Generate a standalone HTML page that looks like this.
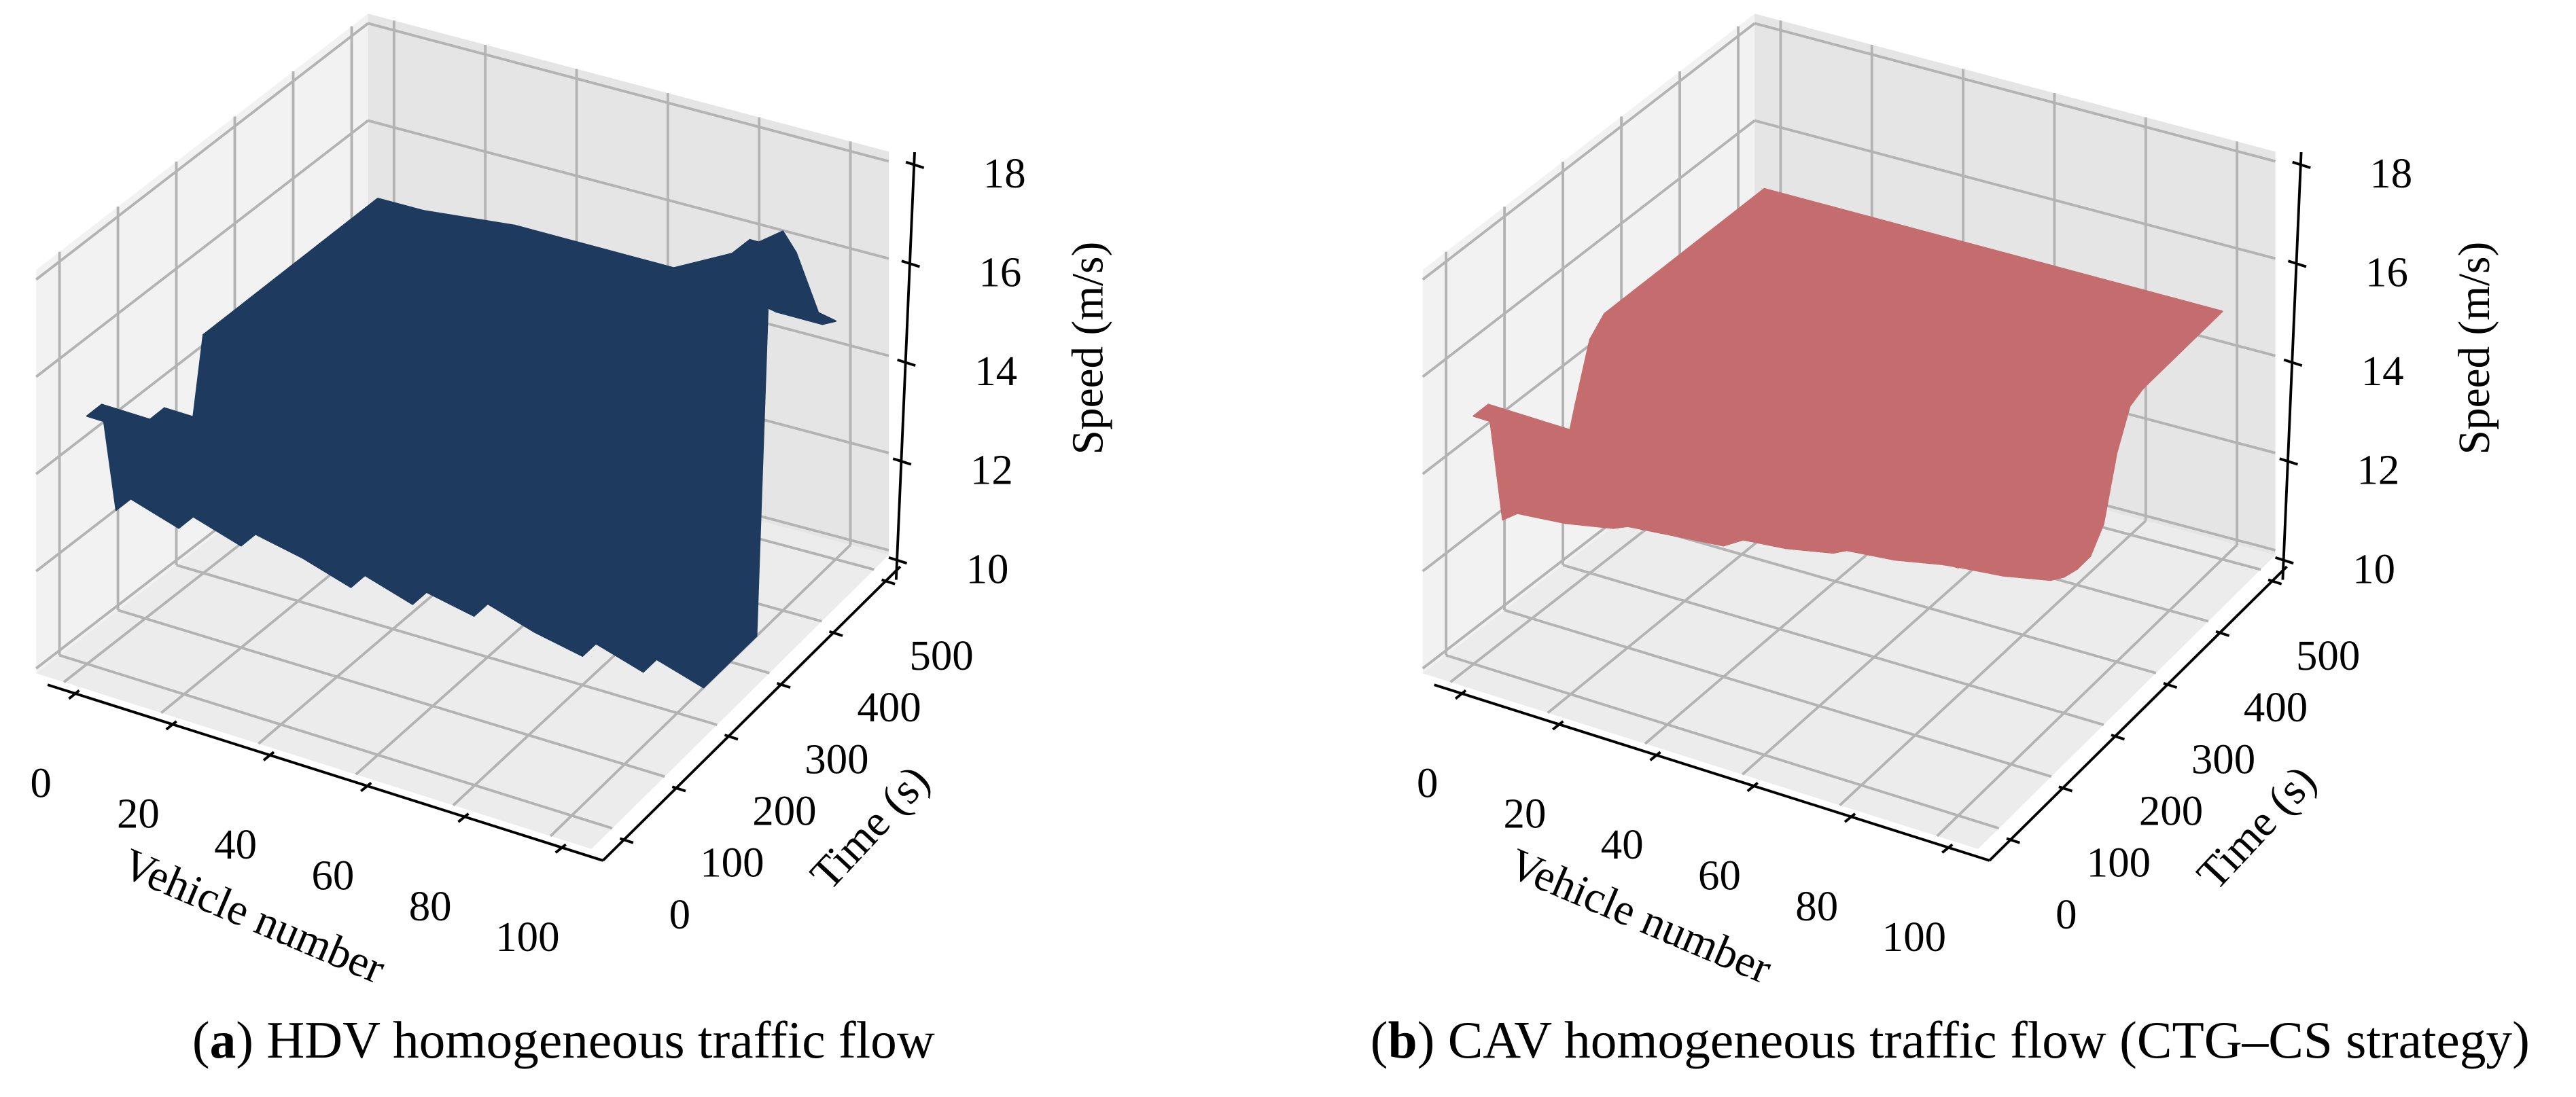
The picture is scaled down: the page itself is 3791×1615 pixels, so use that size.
<!DOCTYPE html>
<html><head><meta charset="utf-8"><style>
html,body{margin:0;padding:0;background:#fff}
svg{display:block}
text{font-family:"Liberation Serif",serif;fill:#000}
</style></head><body>
<svg id="fig" xmlns="http://www.w3.org/2000/svg" width="3791" height="1615" viewBox="0 0 1568 668" preserveAspectRatio="none">
<rect width="1568" height="668" fill="#fff"/>
<g id="pa"></g>
<g id="pb" transform="translate(844,0)"></g>
<text x="343" y="644" font-size="32" text-anchor="middle">(<tspan font-weight="bold">a</tspan>) HDV homogeneous traffic flow</text>
<text x="1187" y="644" font-size="32" text-anchor="middle">(<tspan font-weight="bold">b</tspan>) CAV homogeneous traffic flow (CTG–CS strategy)</text>
</svg>
<script>
// ---- data ----
const vehicles = [0,10,20,30,40,50,60,70,80,90,100];
const times = [0,25,50,75,100,125,150,175,200,225,250,275,300,325,350,375,400,425,450,475,500];
const vTicks = [0,20,40,60,80,100];
const tTicks = [0,100,200,300,400,500];
const zTicks = [10,12,14,16,18];
const hdvSpeed = [
 [15,15,12.6,12.6,12.6,12.6,12.6,12.6,14.8,14.8,14.8,14.8,14.8,14.8,14.8,14.8,14.8,14.8,14.8,14.8,14.8],
 [15,15,15,12.3,12.3,12.3,12.3,12.3,12.3,14.8,14.8,14.8,14.8,14.8,14.8,14.8,14.8,14.8,14.8,14.8,14.8],
 [15,15,15,15,12.0,12.0,12.0,12.0,12.0,12.0,14.9,14.9,14.9,14.9,14.9,14.9,14.9,14.9,14.9,14.9,14.9],
 [15,15,15,15,15,11.8,11.8,11.8,11.8,11.8,11.8,15,15,15,15,15,15,15,15,15,15],
 [15,15,15,15,15,11.5,11.5,11.5,11.5,11.5,11.5,15,15,15,15,15,15,15,15,15,15],
 [15,15,15,15,15,15,11.2,11.2,11.2,11.2,11.2,11.2,15.3,15.3,15.3,15.3,15.3,15.3,15.2,15.1,15],
 [15,15,15,15,15,15,15,11,11,11,11,11,11,15.5,15.5,15.5,15.5,15.4,15.3,15.2,15],
 [15,15,15,15,15,15,15,15,10.7,10.7,10.7,10.7,10.7,10.7,16,16,16,15.8,15.5,15.2,15],
 [15,15,15,15,15,15,15,15,10.5,10.5,10.5,10.5,10.5,10.5,16.5,16.5,16.5,16,15.5,15.2,15],
 [15,15,15,15,15,15,15,15,15,10.2,10.2,10.2,10.2,10.2,10.2,17,17,17,16,15,15],
 [15,15,15,15,15,15,15,15,15,15,9.9,9.9,9.9,9.9,9.9,17.5,17.7,17,16,15,14.8]
];
const cavSpeed = [
 [15,15,12.4,12.3,12.3,12.3,12.4,13.6,14.7,15,15,15,15,15,15,15,15,15,15,15,15],
 [15,15,13.6,12.4,12.3,12.3,12.4,12.8,14.0,14.9,15,15,15,15,15,15,15,15,15,15,15],
 [15,15,14.5,12.6,12.4,12.3,12.4,12.5,13.2,14.5,15,15,15,15,15,15,15,15,15,15,15],
 [15,15,15,13.2,12.5,12.4,12.4,12.4,12.8,13.9,14.8,15,15,15,15,15,15,15,15,15,15],
 [15,15,15,14.2,12.6,12.5,12.4,12.4,12.5,13.3,14.5,15,15,15,15,15,15,15,15,15,15],
 [15,15,15,15,13.2,12.6,12.5,12.5,12.5,12.9,14.0,14.8,15,15,15,15,15,15,15,15,15],
 [15,15,15,15,14.0,12.8,12.6,12.5,12.5,12.6,13.5,14.6,15,15,15,15,15,15,15,15,15],
 [15,15,15,15,14.8,13.3,12.7,12.6,12.5,12.5,13.0,14.3,14.9,15,15,15,15,15,15,15,15],
 [15,15,15,15,15,14.0,12.9,12.6,12.6,12.5,12.7,13.8,14.7,15,15,15,15,15,15,15,15],
 [15,15,15,15,15,14.7,13.3,12.7,12.6,12.6,12.6,13.3,14.5,15,15,15,15,15,15,15,15],
 [15,15,15,15,15,15,13.8,12.9,12.7,12.6,12.6,13.0,14.2,14.9,15,15,15,15,15,15,15]
];

// ---- axis functions ----
const VMIN=-5.7, VMAX=108.4, TMIN=-40, TMAX=528, ZMIN=9.9, ZMAX=18.2, ZS=29.6;
const F0=[22,410], F1=[360,517], F2=[541,338], F3=[224,254];
function P(v,t,z){
  const a=(v-VMIN)/(VMAX-VMIN), b=(t-TMIN)/(TMAX-TMIN);
  const x=(1-a)*(1-b)*F0[0]+a*(1-b)*F1[0]+a*b*F2[0]+(1-a)*b*F3[0];
  const y=(1-a)*(1-b)*F0[1]+a*(1-b)*F1[1]+a*b*F2[1]+(1-a)*b*F3[1];
  return [x, y-(z-ZMIN)*ZS];
}
function zAxisY(z){ return 341-(z-10)*30.1; }
function zAxisX(z){ return 546+(z-10)*1.3; }
const NS='http://www.w3.org/2000/svg';
function mk(tag, parent){ const e=document.createElementNS(NS,tag); parent.appendChild(e); return e; }
function pts(arr){ return arr.map(p=>p[0].toFixed(2)+','+p[1].toFixed(2)).join(' '); }

function drawPanel(g, speed, color){
  const GRID='#b3b3b3';
  let p=mk('polygon',g);
  p.setAttribute('points',pts([P(VMIN,TMIN,ZMIN),P(VMAX,TMIN,ZMIN),P(VMAX,TMAX,ZMIN),P(VMIN,TMAX,ZMIN)]));
  p.setAttribute('fill','#ececec');
  
  
  p=mk('polygon',g);
  p.setAttribute('points',pts([P(VMIN,TMIN,ZMIN),P(VMIN,TMAX,ZMIN),P(VMIN,TMAX,ZMAX),P(VMIN,TMIN,ZMAX)]));
  p.setAttribute('fill','#f2f2f2');
  
  
  p=mk('polygon',g);
  p.setAttribute('points',pts([P(VMIN,TMAX,ZMIN),P(VMAX,TMAX,ZMIN),P(VMAX,TMAX,ZMAX),P(VMIN,TMAX,ZMAX)]));
  p.setAttribute('fill','#e5e5e5');
  
  
  const gl=(A,B,name)=>{ const l=mk('line',g); l.setAttribute('x1',A[0]); l.setAttribute('y1',A[1]); l.setAttribute('x2',B[0]); l.setAttribute('y2',B[1]); l.setAttribute('stroke',GRID); l.setAttribute('stroke-width','1.6');
    
     };
  vTicks.forEach(v=>{ gl(P(v,TMIN,ZMIN),P(v,TMAX,ZMIN),'floor-gridline-v'); gl(P(v,TMAX,ZMIN),P(v,TMAX,ZMAX),'back-gridline-v'); });
  tTicks.forEach(t=>{ gl(P(VMIN,t,ZMIN),P(VMAX,t,ZMIN),'floor-gridline-t'); gl(P(VMIN,t,ZMIN),P(VMIN,t,ZMAX),'left-gridline-t'); });
  zTicks.forEach(z=>{ gl(P(VMIN,TMIN,z),P(VMIN,TMAX,z),'left-gridline-z'); gl(P(VMIN,TMAX,z),P(VMAX,TMAX,z),'back-gridline-z'); });
  const quads=[];
  for(let i=0;i<vehicles.length-1;i++) for(let j=0;j<times.length-1;j++){
    const a=(vehicles[i]+vehicles[i+1])/2, b=(times[j]+times[j+1])/2;
    quads.push({i,j,d:(a-VMIN)/(VMAX-VMIN)-(b-TMIN)/(TMAX-TMIN)});
  }
  quads.sort((q,r)=>q.d-r.d);
  const sg=mk('g',g);
  
  
  quads.forEach(q=>{
    const i=q.i,j=q.j;
    const poly=mk('polygon',sg);
    poly.setAttribute('points',pts([P(vehicles[i],times[j],speed[i][j]),P(vehicles[i+1],times[j],speed[i+1][j]),P(vehicles[i+1],times[j+1],speed[i+1][j+1]),P(vehicles[i],times[j+1],speed[i][j+1])]));
    poly.setAttribute('fill',color);
    poly.setAttribute('stroke',color);
    poly.setAttribute('stroke-width','1');
    poly.setAttribute('stroke-linejoin','round');
    
    
  });
  const axl=(A,B,name)=>{ const l=mk('line',g); l.setAttribute('x1',A[0]); l.setAttribute('y1',A[1]); l.setAttribute('x2',B[0]); l.setAttribute('y2',B[1]); l.setAttribute('stroke','#000'); l.setAttribute('stroke-width','1.6');
    
     };
  const off=(pt)=>[pt[0]+7,pt[1]+7];
  axl(off(P(VMIN,TMIN,ZMIN)),off(P(VMAX,TMIN,ZMIN)),'x-axis-line');
  axl(off(P(VMAX,TMIN,ZMIN)),off(P(VMAX,TMAX,ZMIN)),'time-axis-line');
  axl([zAxisX(9.6),zAxisY(9.6)],[zAxisX(18.25),zAxisY(18.25)],'z-axis-line');
  vTicks.forEach(v=>{
    const c=off(P(v,TMIN,ZMIN));
    axl([c[0]-3.9,c[1]+3.1],[c[0]+2.3,c[1]-1.9],'x-tick');
    const tx=mk('text',g); tx.textContent=String(v);
    tx.setAttribute('x',c[0]-21); tx.setAttribute('y',c[1]+63); tx.setAttribute('font-size','26'); tx.setAttribute('text-anchor','middle');
    
    
  });
  tTicks.forEach(t=>{
    const c=off(P(VMAX,t,ZMIN));
    axl([c[0]-2.4,c[1]-0.8],[c[0]+5.7,c[1]+1.8],'time-tick');
    const tx=mk('text',g); tx.textContent=String(t);
    tx.setAttribute('x',c[0]+34); tx.setAttribute('y',c[1]+54); tx.setAttribute('font-size','26'); tx.setAttribute('text-anchor','middle');
    
    
  });
  zTicks.forEach(z=>{
    const x=zAxisX(z), y=zAxisY(z);
    axl([x-5,y-1.5],[x+6,y+2],'z-tick');
    const tx=mk('text',g); tx.textContent=String(z);
    tx.setAttribute('x',x+55); tx.setAttribute('y',y+14); tx.setAttribute('font-size','26'); tx.setAttribute('text-anchor','middle');
    
    
  });
  let t=mk('text',g); t.textContent='Vehicle number';
  t.setAttribute('font-size','27'); t.setAttribute('text-anchor','middle');
  t.setAttribute('transform','translate(151,566) rotate(23)');
  
  
  t=mk('text',g); t.textContent='Time (s)';
  t.setAttribute('font-size','27'); t.setAttribute('text-anchor','middle');
  t.setAttribute('transform','translate(536,510) rotate(-47)');
  
  
  t=mk('text',g); t.textContent='Speed (m/s)';
  t.setAttribute('font-size','27'); t.setAttribute('text-anchor','middle');
  t.setAttribute('transform','translate(671,212) rotate(-90)');
  
  
}
drawPanel(document.getElementById('pa'), hdvSpeed, '#1e3a5f');
drawPanel(document.getElementById('pb'), cavSpeed, '#c46c6e');
</script>
</body></html>
